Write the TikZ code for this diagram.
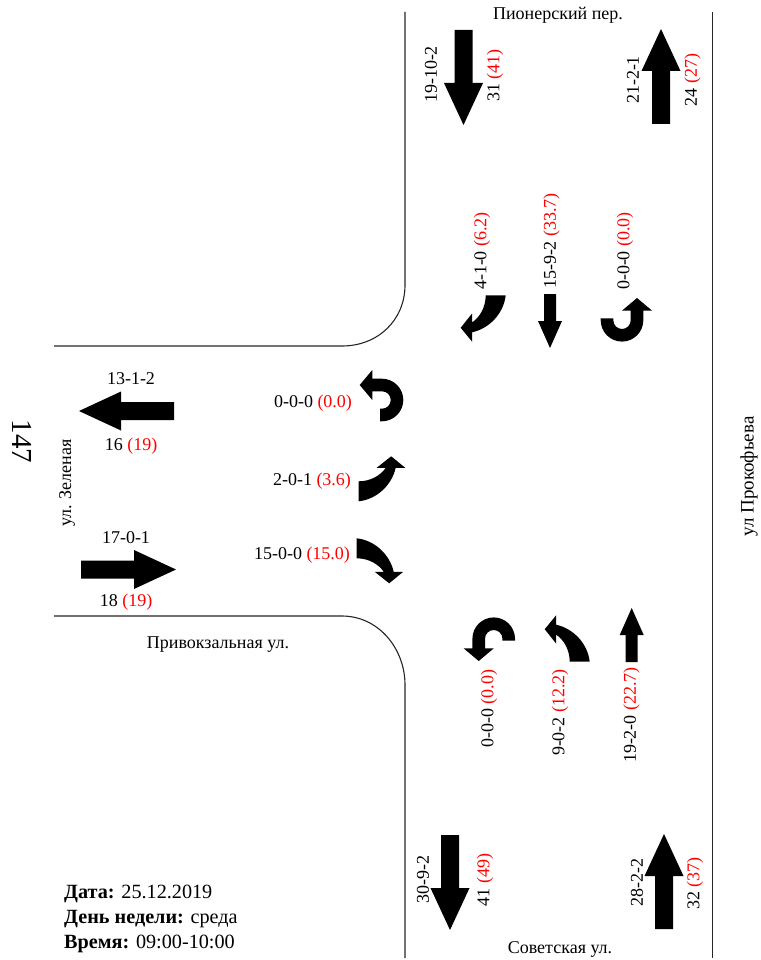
\documentclass[tikz,border=0pt]{standalone}
\usepackage{fontspec}
\setmainfont{Liberation Serif}
\usepackage[HTML]{xcolor}
\usepackage{tikz}
\newcommand{\redval}[1]{\textcolor{red}{(#1)}}
\tikzset{
  roadline/.style={draw=black!85,line width=1.1pt},
  cnt/.style={font=\fontsize{18}{21}\selectfont,inner sep=0pt},
  vcnt/.style={cnt,rotate=90},
  datetext/.style={cnt,anchor=base west,font=\fontsize{20.2}{24}\selectfont},
  pics/bigarrow/.style={code={\fill (-9,0)--(9,0)--(9,53)--(19.5,53)--(0,95)--(-19.5,53)--(-9,53)--cycle;}},
  pics/smallarrow/.style={code={\fill (-6,0)--(6,0)--(6,27)--(12,27)--(0,54)--(-12,27)--(-6,27)--cycle;}},
  pics/turnarrow/.style={code={\fill (-10,0) .. controls (-10,12) and (-16,22) .. (-23.5,27)--(-23.5,18)--(-35,32.5)--(-23.5,46.5)--(-23.5,37) .. controls (-6,33) and (8,18) .. (10,0)--cycle;}},
  pics/uturnarrow/.style={code={\fill (-6.3,0)--(-6.3,2) .. controls (-6.3,13.7) and (3.3,23.3) .. (15,23.3) .. controls (26.7,23.3) and (36.3,13.7) .. (36.3,2)--(36.3,-7.7)--(45,-7.7)--(30,-20.3)--(15,-7.7)--(23.7,-7.7)--(23.7,2) .. controls (23.7,6.8) and (19.8,10.7) .. (15,10.7) .. controls (10.2,10.7) and (6.3,6.8) .. (6.3,2)--(6.3,0)--cycle;}}
}
\begin{document}
\begin{tikzpicture}[x=1pt,y=-1pt]
\useasboundingbox (0,0) rectangle (760,960);
\draw[roadline] (54,346)--(342,346) .. controls (378,346) and (405,320) .. (405,285)--(405,12);
\draw[roadline] (54,616)--(342,616) .. controls (378,616) and (405,648) .. (405,685)--(405,958);
\draw[roadline] (712.5,12)--(712.5,958);
\foreach \x/\y/\r in {463.5/30/0,661/124/180,450/835/0,664/929/180,174/411/-90,81/569.5/90}{
\pic[rotate=\r] at (\x,\y) {bigarrow};
}
\pic at (550,294) {smallarrow};
\pic[rotate=180] at (631.7,662) {smallarrow};
\pic at (495.7,295.3) {turnarrow};
\pic[rotate=90] at (356.7,548.3) {turnarrow};
\pic[rotate=90,xscale=-1] at (358.7,491.3) {turnarrow};
\pic[rotate=180,xscale=-1] at (579.7,661.7) {turnarrow};
\pic at (607,318.3) {uturnarrow};
\pic[rotate=90] at (380,415) {uturnarrow};
\pic[rotate=180] at (508.7,640.7) {uturnarrow};
\node[vcnt] (topdownA) at (431,74.5) {19-10-2};
\node[vcnt] (topdownB) at (495,75.5) {31 \redval{41}};
\node[vcnt] (topupA) at (633,80) {21-2-1};
\node[vcnt] (topupB) at (692.5,80) {24 \redval{27}};
\node[vcnt] (botdownA) at (423,879) {30-9-2};
\node[vcnt] (botdownB) at (485,880) {41 \redval{49}};
\node[vcnt] (botupA) at (637,882) {28-2-2};
\node[vcnt] (botupB) at (695,883.5) {32 \redval{37}};
\node[vcnt] (topright) at (482,251) {4-1-0 \redval{6.2}};
\node[vcnt] (topstraight) at (551.5,241) {15-9-2 \redval{33.7}};
\node[vcnt] (toputurn) at (625,251) {0-0-0 \redval{0.0}};
\node[vcnt] (botuturn) at (489,708.5) {0-0-0 \redval{0.0}};
\node[vcnt] (botleft) at (560,712.5) {9-0-2 \redval{12.2}};
\node[vcnt] (botstraight) at (631.5,715) {19-2-0 \redval{22.7}};
\node[cnt] (leftuturn) at (313,403) {0-0-0 \redval{0.0}};
\node[cnt] (leftturnA) at (312,481) {2-0-1 \redval{3.6}};
\node[cnt] (leftturnB) at (302,555) {15-0-0 \redval{15.0}};
\node[cnt] (outA) at (131,379) {13-1-2};
\node[cnt] (outB) at (131,446) {16 \redval{19}};
\node[cnt] (inA) at (126,538) {17-0-1};
\node[cnt] (inB) at (126,602) {18 \redval{19}};
\node[cnt,font=\fontsize{29}{33}\selectfont,rotate=-90] (objnum) at (22,441.5) {147};
\node[vcnt] (zelenaya) at (67,483) {ул. Зеленая};
\node[vcnt,font=\fontsize{19}{22}\selectfont] (prokofyeva) at (749,476.5) {ул Прокофьева};
\node[cnt] (pioner) at (558,15) {Пионерский пер.};
\node[cnt] (sovet) at (560,949) {Советская ул.};
\node[cnt] (privokzal) at (218,645) {Привокзальная ул.};
\node[datetext] (datelabel) at (64,898) {\textbf{Дата:} 25.12.2019};
\node[datetext] (daylabel) at (64,923) {\textbf{День недели:} среда};
\node[datetext] (timelabel) at (64,948) {\textbf{Время:} 09:00-10:00};
\end{tikzpicture}
\end{document}
